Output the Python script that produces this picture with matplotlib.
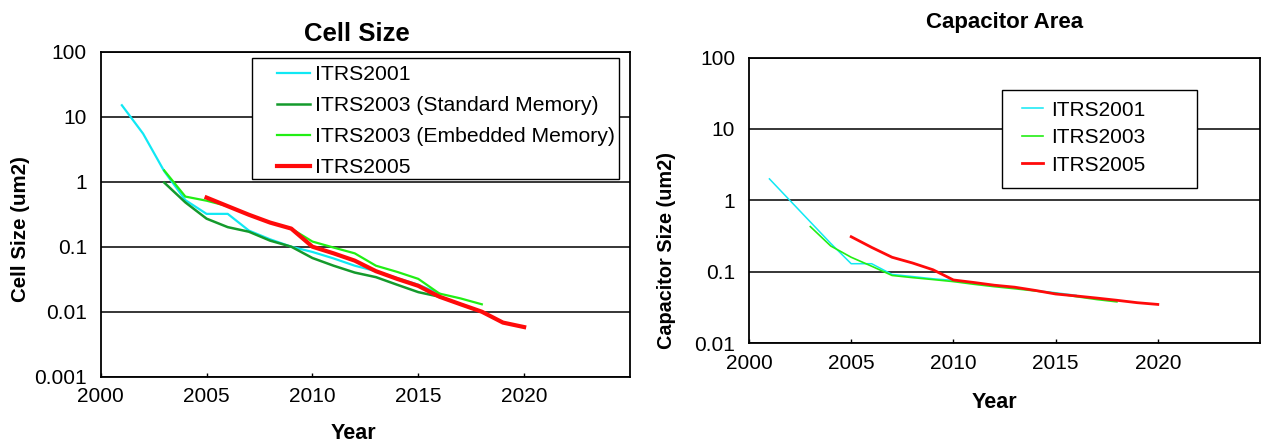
import matplotlib
matplotlib.use("Agg")
import matplotlib.pyplot as plt
from matplotlib.patches import Rectangle
from matplotlib.ticker import FixedLocator, FixedFormatter

plt.rcParams['font.family'] = ['Liberation Sans', 'DejaVu Sans']

# ---------------- data ----------------
# Cell Size chart
cs_itrs2001_years = list(range(2001, 2017))
cs_itrs2001 = [15, 5.5, 1.45, 0.52, 0.32, 0.32, 0.177, 0.13, 0.10, 0.083,
               0.066, 0.051, 0.042, 0.033, 0.026, 0.019]
cs_itrs2003_std_years = list(range(2003, 2019))
cs_itrs2003_std = [0.97, 0.48, 0.27, 0.20, 0.17, 0.124, 0.10, 0.067, 0.051,
                   0.040, 0.034, 0.026, 0.020, 0.017, 0.013, 0.010]
cs_itrs2003_emb_years = list(range(2003, 2019))
cs_itrs2003_emb = [1.49, 0.59, 0.51, 0.42, 0.31, 0.235, 0.19, 0.12, 0.097,
                   0.079, 0.051, 0.041, 0.032, 0.019, 0.016, 0.013]
cs_itrs2005_years = list(range(2005, 2021))
cs_itrs2005 = [0.57, 0.42, 0.31, 0.235, 0.19, 0.10, 0.079, 0.061, 0.042,
               0.032, 0.025, 0.017, 0.013, 0.010, 0.0068, 0.0058]

# Capacitor Area chart
ca_itrs2001_years = list(range(2001, 2017))
ca_itrs2001 = [2.0, 1.0, 0.5, 0.25, 0.13, 0.13, 0.092, 0.086, 0.080, 0.076,
               0.070, 0.065, 0.060, 0.055, 0.051, 0.047]
ca_itrs2003_years = list(range(2003, 2019))
ca_itrs2003 = [0.43, 0.23, 0.16, 0.12, 0.089, 0.083, 0.078, 0.073, 0.067,
               0.062, 0.058, 0.054, 0.050, 0.045, 0.041, 0.038]
ca_itrs2005_years = list(range(2005, 2021))
ca_itrs2005 = [0.31, 0.22, 0.16, 0.133, 0.107, 0.077, 0.071, 0.065, 0.061,
               0.055, 0.049, 0.046, 0.043, 0.040, 0.037, 0.035]

x_ticks = [2000, 2005, 2010, 2015, 2020]
x_tick_labels = ["2000", "2005", "2010", "2015", "2020"]
cs_y_ticks = [0.001, 0.01, 0.1, 1, 10, 100]
cs_y_tick_labels = ["0.001", "0.01", "0.1", "1", "10", "100"]
ca_y_ticks = [0.01, 0.1, 1, 10, 100]
ca_y_tick_labels = ["0.01", "0.1", "1", "10", "100"]

CYAN = '#10E8F4'
DKGREEN = '#149A2C'
LTGREEN = '#22EE14'
RED = '#FF0A0A'

W, H = 1261, 443
fig = plt.figure(figsize=(W / 100, H / 100), dpi=100)


def px_axes(x0, y0, x1, y1):
    return fig.add_axes([x0 / W, 1 - y1 / H, (x1 - x0) / W, (y1 - y0) / H])


def style_axes(ax, yticks, ylabels, ylim):
    ax.set_yscale('log')
    ax.set_xlim(2000, 2025)
    ax.set_ylim(*ylim)
    ax.yaxis.set_major_locator(FixedLocator(yticks))
    ax.yaxis.set_major_formatter(FixedFormatter(ylabels))
    ax.yaxis.set_minor_locator(FixedLocator([]))
    ax.set_xticks(x_ticks)
    ax.set_xticklabels(x_tick_labels)
    for s in ax.spines.values():
        s.set_linewidth(1.3)
        s.set_color('black')
    ax.tick_params(axis='x', direction='in', length=3, width=1,
                   labelsize=15, pad=7.5)
    ax.tick_params(axis='y', length=0, labelsize=15, pad=10)
    ax.grid(True, axis='y', which='major', color='black', linewidth=1.1)
    ax.grid(False, axis='x')
    ax.set_axisbelow(True)


# ---------------- Cell Size ----------------
ax1 = px_axes(100.7, 51.7, 630, 376.7)
style_axes(ax1, cs_y_ticks, cs_y_tick_labels, (0.001, 100))
l1, = ax1.plot(cs_itrs2001_years, cs_itrs2001, color=CYAN, lw=1.6, zorder=3)
l2, = ax1.plot(cs_itrs2003_std_years, cs_itrs2003_std, color=DKGREEN, lw=1.8, zorder=3)
l3, = ax1.plot(cs_itrs2003_emb_years, cs_itrs2003_emb, color=LTGREEN, lw=1.6, zorder=3)
l4, = ax1.plot(cs_itrs2005_years, cs_itrs2005, color=RED, lw=3.0, zorder=3)

ax1.text(0.484, 1.033, "Cell Size", transform=ax1.transAxes, ha='center',
         va='baseline', fontsize=18.5, fontweight='bold')
ax1.set_ylabel("Cell Size (um2)", fontsize=14.8, fontweight='bold')
ax1.yaxis.set_label_coords(-0.1336, 0.4545)
ax1.set_xlabel("Year", fontsize=15.5, fontweight='bold')
ax1.xaxis.set_label_coords(0.4767, -0.1425)

ax1.add_patch(Rectangle((0.2858, 0.6083), 0.6934, 0.3723, transform=ax1.transAxes,
                        facecolor='white', edgecolor='black', lw=1.0, zorder=4,
                        clip_on=False))
leg1 = ax1.legend([l1, l2, l3, l4],
                  ["ITRS2001", "ITRS2003 (Standard Memory)",
                   "ITRS2003 (Embedded Memory)", "ITRS2005"],
                  loc='upper left', bbox_to_anchor=(0.3325, 0.959),
                  frameon=False, borderpad=0, borderaxespad=0,
                  fontsize=15.2, handlelength=1.57, handletextpad=0.25,
                  labelspacing=0.57)
leg1.set_zorder(5)

# ---------------- Capacitor Area ----------------
ax2 = px_axes(749, 57.5, 1260, 343.3)
style_axes(ax2, ca_y_ticks, ca_y_tick_labels, (0.01, 100))
m1, = ax2.plot(ca_itrs2001_years, ca_itrs2001, color=CYAN, lw=1.1, zorder=3)
m2, = ax2.plot(ca_itrs2003_years, ca_itrs2003, color=LTGREEN, lw=1.2, zorder=3)
m3, = ax2.plot(ca_itrs2005_years, ca_itrs2005, color=RED, lw=2.0, zorder=3)

ax2.text(0.501, 1.102, "Capacitor Area", transform=ax2.transAxes, ha='center',
         va='baseline', fontsize=16, fontweight='bold')
ax2.set_ylabel("Capacitor Size (um2)", fontsize=14.3, fontweight='bold')
ax2.yaxis.set_label_coords(-0.1429, 0.323)
ax2.set_xlabel("Year", fontsize=15.5, fontweight='bold')
ax2.xaxis.set_label_coords(0.4795, -0.1704)

ax2.add_patch(Rectangle((0.4945, 0.5434), 0.3822, 0.3429, transform=ax2.transAxes,
                        facecolor='white', edgecolor='black', lw=1.0, zorder=4,
                        clip_on=False))
leg2 = ax2.legend([m1, m2, m3], ["ITRS2001", "ITRS2003", "ITRS2005"],
                  loc='upper left', bbox_to_anchor=(0.5337, 0.849),
                  frameon=False, borderpad=0, borderaxespad=0,
                  fontsize=15, handlelength=1.03, handletextpad=0.37,
                  labelspacing=0.41)
leg2.set_zorder(5)

fig.savefig("out.png", dpi=100)
